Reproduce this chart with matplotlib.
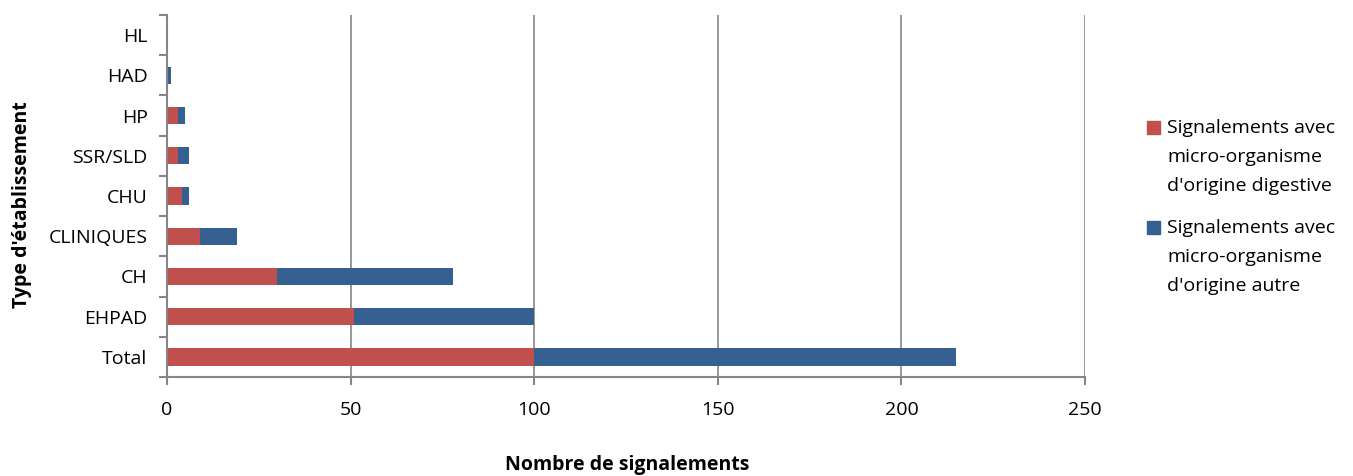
import matplotlib.pyplot as plt
from matplotlib.patches import Rectangle
import numpy as np

plt.rcParams['font.family'] = ['Open Sans', 'DejaVu Sans']

# Signalements par type d'établissement (de bas en haut)
categories = ["Total", "EHPAD", "CH", "CLINIQUES", "CHU", "SSR/SLD", "HP", "HAD", "HL"]
digestive = [100, 51, 30, 9, 4, 3, 3, 0, 0]
autre = [115, 49, 48, 10, 2, 3, 2, 1, 0]
series_labels = ["Signalements avec\nmicro-organisme\nd'origine digestive",
                 "Signalements avec\nmicro-organisme\nd'origine autre"]

red = "#C0504D"
blue = "#376092"
grey = "#868686"

W, H = 1353, 476
fig = plt.figure(figsize=(W / 100, H / 100), dpi=100)
ax = fig.add_axes([167 / W, 99 / H, 918 / W, 362 / H])

y = np.arange(len(categories))
ax.barh(y, digestive, height=0.43, color=red)
ax.barh(y, autre, left=digestive, height=0.43, color=blue)

ax.set_xlim(0, 250)
ax.set_ylim(-0.5, len(categories) - 0.5)
ax.set_xticks(range(0, 251, 50))
ax.set_yticks(y)
ax.set_yticklabels(categories)
ax.set_yticks(np.arange(-0.5, len(categories), 1), minor=True)

ax.grid(axis="x", color=grey, linewidth=1.2)
ax.set_axisbelow(True)
for side in ["top", "right"]:
    ax.spines[side].set_visible(False)
for side in ["left", "bottom"]:
    ax.spines[side].set_color(grey)
    ax.spines[side].set_linewidth(1.5)

ax.tick_params(axis="y", which="major", length=0, pad=14, labelsize=14)
ax.tick_params(axis="y", which="minor", length=6, color=grey, width=1.5)
ax.tick_params(axis="x", length=6, color=grey, width=1.5, pad=11, labelsize=14)

fig.text(22 / W, 1 - 205 / H, "Type d'établissement", rotation=90,
         ha="center", va="center", fontsize=14, fontweight="bold")
fig.text(627 / W, 1 - 465 / H, "Nombre de signalements",
         ha="center", va="center", fontsize=14, fontweight="bold")

# légende à droite, carré aligné sur la première ligne
for color, label, top in zip([red, blue], series_labels, [121, 221]):
    fig.add_artist(Rectangle((1147 / W, 1 - (top + 13) / H), 13 / W, 13 / H,
                             transform=fig.transFigure, color=color))
    fig.text(1167 / W, 1 - (top - 2) / H, label, ha="left", va="top",
             fontsize=14, linespacing=1.8)

fig.savefig("out.png", dpi=100)
